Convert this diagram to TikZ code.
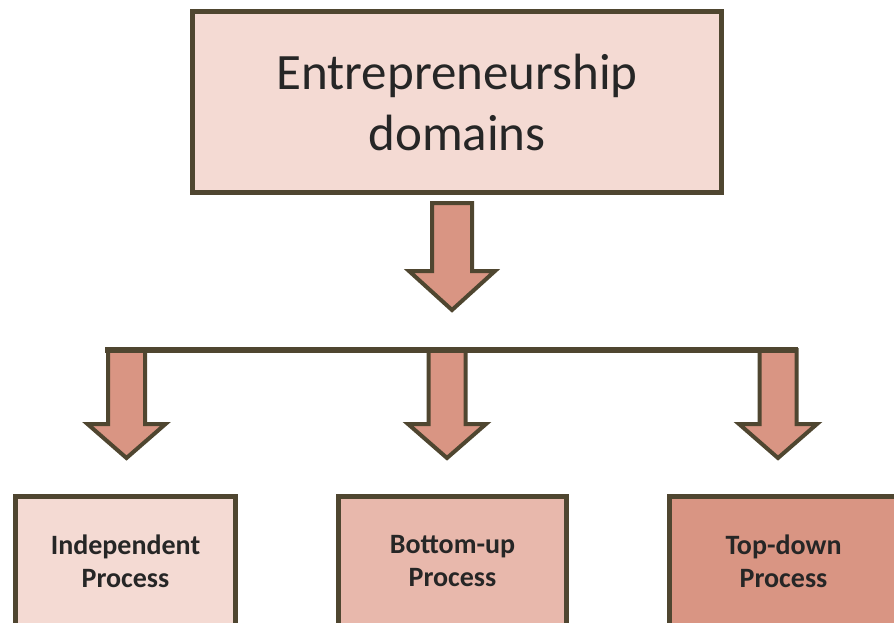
\documentclass[tikz,border=0pt]{standalone}
\usepackage{fontspec}
\setmainfont{Carlito}
\usetikzlibrary{positioning, calc}
\definecolor{rand}{HTML}{4F4630}
\definecolor{hell}{HTML}{F4DAD3}
\definecolor{mittel}{HTML}{E8B8AC}
\definecolor{dunkel}{HTML}{D99583}

% Blockpfeil: Start, Spitze, halbe Schaftbreite, halbe Kopfbreite, Kopflaenge
\newcommand{\blockpfeil}[5]{%
  \draw[pfeil] let \p1=(#1), \p2=(#2) in
    (\x1-#3,\y1) -- (\x1+#3,\y1) -- (\x1+#3,\y2+#5) -- (\x1+#4,\y2+#5)
    -- (\x2,\y2) -- (\x1-#4,\y2+#5) -- (\x1-#3,\y2+#5) -- cycle;}

\begin{document}
\begin{tikzpicture}[x=1pt, y=-1pt,
    every node/.style={draw=rand, line width=5pt, align=center, text=black!85},
    box/.style={minimum height=130pt, font=\bfseries\fontsize{28}{33}\selectfont},
    pfeil/.style={draw=rand, fill=dunkel, line width=4pt, line join=miter}]

\clip (0,0) rectangle (894,623);

% Oberer Kasten
\node[fill=hell, minimum width=529pt, minimum height=181pt,
      font=\fontsize{51}{61}\selectfont] (E) at (457,102) {Entrepreneurship\\domains};

% Grosser Pfeil
\coordinate (P0) at (452,203);
\coordinate (P1) at (452,310);
\blockpfeil{P0}{P1}{20pt}{43pt}{39pt}

% Untere Pfeile
\foreach \name/\x in {I/126.5, B/447, T/778} {
  \coordinate (\name0) at (\x,350);
  \coordinate (\name1) at (\x,458);
  \blockpfeil{\name0}{\name1}{18.5pt}{39pt}{34pt}
}

% Querbalken
\coordinate (Q1) at (108,350);
\coordinate (Q2) at (795,350);
\draw[draw=rand, line width=6pt, line cap=rect] (Q1) -- (Q2);

% Untere Kaesten
\node[box, fill=hell, minimum width=220pt] (I) at (125.5,561.5) {Independent\\Process};
\node[box, fill=mittel, minimum width=228pt] (B) at (452.5,561.5) {Bottom-up\\Process};
\node[box, fill=dunkel, minimum width=228pt] (T) at (783.5,561.5) {Top-down\\Process};

\end{tikzpicture}
\end{document}
